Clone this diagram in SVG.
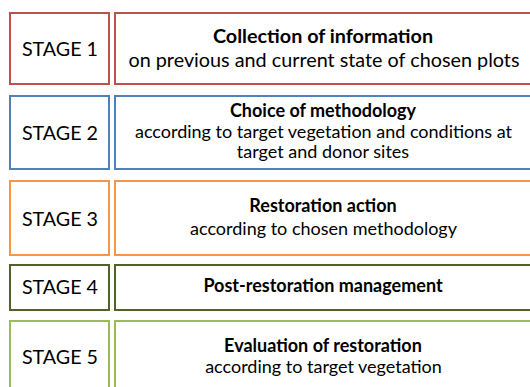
<svg xmlns="http://www.w3.org/2000/svg" width="530" height="387" viewBox="0 0 530 387">
  <style>
    .box { fill: #ffffff; stroke-width: 2; }
    .s1 { stroke: #C0504D; }
    .s2 { stroke: #4F81BD; }
    .s3 { stroke: #F79646; }
    .s4 { stroke: #4F6228; }
    .s5 { stroke: #9BBB59; }
    text { font-family: Lato, "Open Sans", sans-serif; fill: #000000; text-anchor: middle; }
    .lbl { font-size: 19.7px; }
    .big { font-size: 19.8px; }
    .mid { font-size: 18px; }
    .b { font-weight: bold; }
  </style>
  <rect width="530" height="387" fill="#ffffff"/>

  <g id="stage1">
    <rect class="box s1" x="10" y="13" width="99" height="71"/>
    <rect class="box s1" x="115" y="13" width="430" height="71"/>
    <text class="lbl" x="60" y="56">STAGE 1</text>
    <text class="big b" x="323" y="43">Collection of information</text>
    <text class="big" x="324" y="67">on previous and current state of chosen plots</text>
  </g>

  <g id="stage2">
    <rect class="box s2" x="10" y="96" width="99" height="73"/>
    <rect class="box s2" x="115" y="96" width="430" height="73"/>
    <text class="lbl" x="60" y="140">STAGE 2</text>
    <text class="mid b" x="323" y="117">Choice of methodology</text>
    <text class="mid" x="323.5" y="138">according to target vegetation and conditions at</text>
    <text class="mid" x="323" y="158">target and donor sites</text>
  </g>

  <g id="stage3">
    <rect class="box s3" x="10" y="181" width="99" height="74"/>
    <rect class="box s3" x="115" y="181" width="430" height="74"/>
    <text class="lbl" x="60" y="226">STAGE 3</text>
    <text class="mid b" x="323" y="212">Restoration action</text>
    <text class="mid" x="323.5" y="235">according to chosen methodology</text>
  </g>

  <g id="stage4">
    <rect class="box s4" x="10" y="265" width="99" height="45"/>
    <rect class="box s4" x="115" y="265" width="430" height="45"/>
    <text class="lbl" x="60" y="294">STAGE 4</text>
    <text class="mid b" x="323" y="292">Post-restoration management</text>
  </g>

  <g id="stage5">
    <rect class="box s5" x="10" y="321" width="99" height="80"/>
    <rect class="box s5" x="115" y="321" width="430" height="80"/>
    <text class="lbl" x="60" y="364">STAGE 5</text>
    <text class="mid b" x="323" y="352">Evaluation of restoration</text>
    <text class="mid" x="323.5" y="373">according to target vegetation</text>
  </g>

  <g id="connectors"></g>
</svg>
